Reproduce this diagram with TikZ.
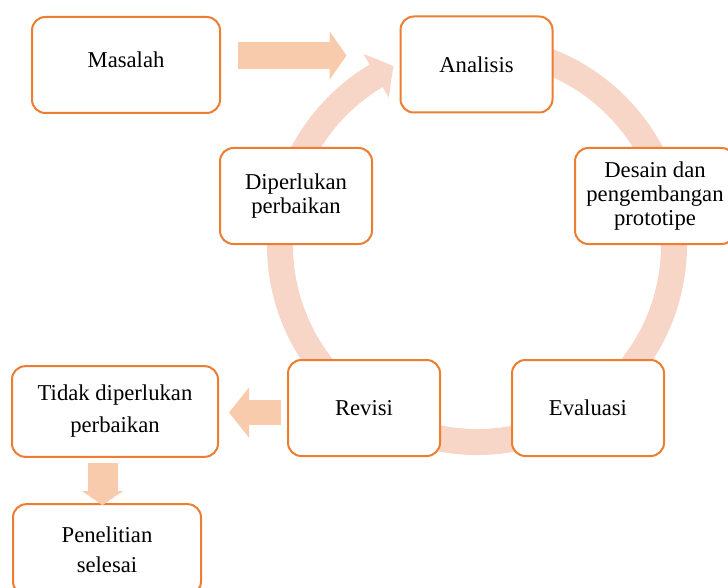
\documentclass[tikz,border=0pt]{standalone}
\usepackage{fontspec}
\setmainfont{Liberation Serif}
\usetikzlibrary{arrows.meta,bending}
\definecolor{boxorange}{HTML}{ED7D31}
\definecolor{arrowfill}{HTML}{F8CBAD}
\definecolor{bandfill}{HTML}{F7D6C8}
\tikzset{stagebox/.style={
        draw=boxorange, line width=1.5pt, fill=white,
        rounded corners=10pt, align=center, inner sep=0pt,
        minimum width=114pt, minimum height=72pt,
        font=\fontsize{17}{18}\selectfont
    },
    blockarrow/.style={
        draw=arrowfill, line width=#1
    }
}

\begin{document}
\begin{tikzpicture}[x=0.75pt,y=-0.75pt]
      \clip (0,0) rectangle (728,588);
      % cycle band
      \coordinate (cyc) at (477,245);
      \draw[bandfill, line width=19.5pt, -{Triangle[length=15pt,width=37pt,bend]}]
        (cyc) ++(-80:197) arc[start angle=-80, end angle=245, radius=197];
      % boxes
      \node[stagebox, minimum width=141pt, text depth=8pt] (masalah) at (126,65) {Masalah};
      \node[stagebox] (analisis) at (476.5,64.5) {Analisis};
      \node[stagebox, minimum width=120pt] (desain) at (655,196) {Desain dan\\pengembangan\\prototipe};
      \node[stagebox] (diperlukan) at (296,196) {Diperlukan\\perbaikan};
      \node[stagebox] (evaluasi) at (588,408) {Evaluasi};
      \node[stagebox] (revisi) at (364,408) {Revisi};
      \node[stagebox, minimum width=154.5pt, minimum height=68pt,
        font=\fontsize{17}{24}\selectfont] (tidak) at (115,411.5) {Tidak diperlukan\\perbaikan};
      \node[stagebox, minimum width=141pt, minimum height=68pt,
        font=\fontsize{17}{22.5}\selectfont] (penelitian) at (107,549.5) {Penelitian\\selesai};
      % block arrows
      \draw[blockarrow=20.25pt, -{Triangle[length=12.75pt,width=36pt]}]
        ([shift={(17,-9.5)}]masalah.east) -- ([shift={(-53,-9)}]analisis.west);
      \draw[blockarrow=18.75pt, -{Triangle[length=15pt,width=36.75pt]}]
        ([shift={(-6,4.5)}]revisi.west) -- ([shift={(10,1)}]tidak.east);
      \draw[blockarrow=22.5pt, -{Triangle[length=10.5pt,width=30pt]}]
        ([shift={(-12.5,5)}]tidak.south) -- ([shift={(-4.5,2)}]penelitian.north);
\end{tikzpicture}
\end{document}
